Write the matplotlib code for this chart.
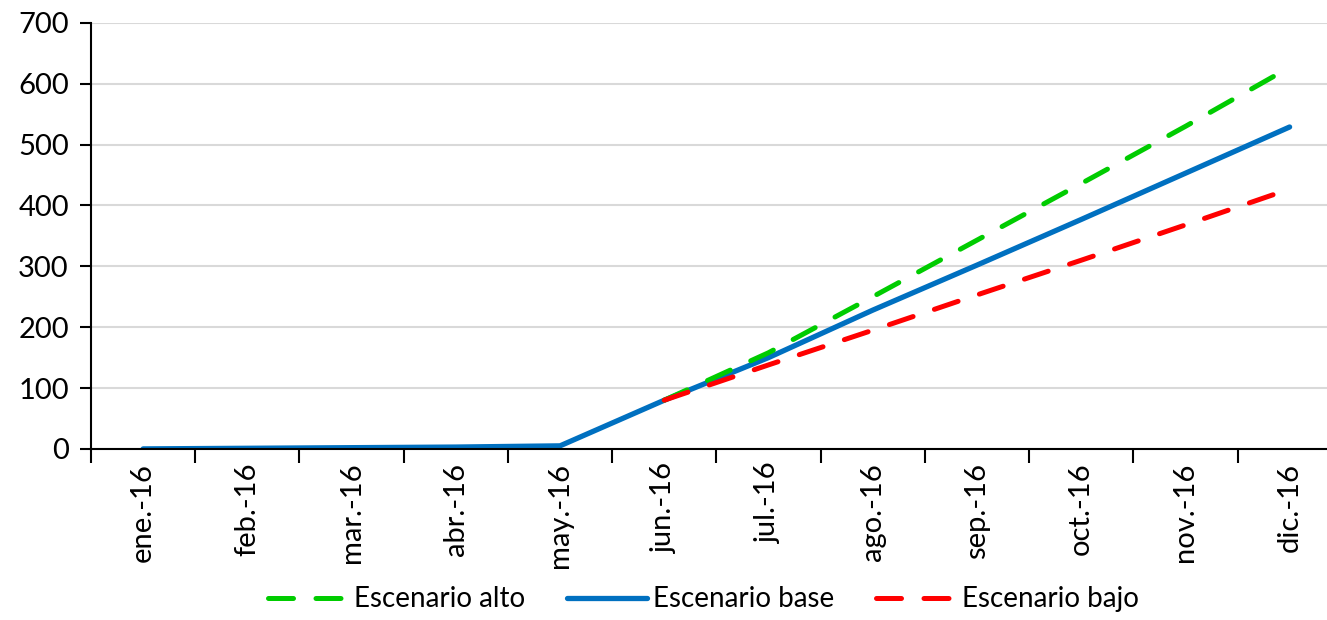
import matplotlib.pyplot as plt
import numpy as np

plt.rcParams['font.family'] = ['Lato', 'DejaVu Sans']

meses = ['ene.-16', 'feb.-16', 'mar.-16', 'abr.-16', 'may.-16', 'jun.-16',
         'jul.-16', 'ago.-16', 'sep.-16', 'oct.-16', 'nov.-16', 'dic.-16']

# escenarios arrancan en junio
base = [0, 1, 2, 3, 5, 80, 150, 228, 302, 377, 453, 529]
alto = [None, None, None, None, None, 80, 158, 250, 343, 436, 530, 627]
bajo = [None, None, None, None, None, 80, 138, 195, 253, 310, 368, 427]

x = np.arange(len(meses))
alto_y = np.array([np.nan if v is None else v for v in alto], dtype=float)
bajo_y = np.array([np.nan if v is None else v for v in bajo], dtype=float)

fig = plt.figure(figsize=(13.27, 6.2), dpi=100)
ax = fig.add_axes([0.0686, 0.276, 0.9425, 0.687])

ax.plot(x, alto_y, color='#00cc00', lw=3.6, dashes=(5, 4.5),
        dash_capstyle='round', label='Escenario alto', zorder=3)
ax.plot(x, base, color='#0070c0', lw=3.8, solid_capstyle='round',
        label='Escenario base', zorder=2)
ax.plot(x, bajo_y, color='#ff0000', lw=3.6, dashes=(5, 4.5),
        dash_capstyle='round', label='Escenario bajo', zorder=4)

ax.set_xlim(-0.5, len(meses) - 0.5)
ax.set_ylim(0, 700)
ax.set_yticks(range(0, 701, 100))
ax.yaxis.grid(True, color='#d9d9d9', lw=1.5)
ax.set_axisbelow(True)

ax.set_xticks(x)
ax.set_xticklabels(meses, rotation=90, fontsize=21)
ax.tick_params(axis='x', length=0, pad=10)
ax.set_xticks(np.arange(-0.5, len(meses), 1), minor=True)
ax.tick_params(axis='x', which='minor', length=10, width=1.5, direction='out')
ax.tick_params(axis='y', labelsize=21, length=8, width=1.5, pad=8)

for s in ['top', 'right']:
    ax.spines[s].set_visible(False)
for s in ['left', 'bottom']:
    ax.spines[s].set_linewidth(1.5)

fig.legend(loc='lower center', bbox_to_anchor=(0.53, -0.028), ncol=3,
           frameon=False, fontsize=20, handlelength=2.9, columnspacing=1.5,
           handletextpad=0.2)

fig.savefig('out.png', dpi=100)
